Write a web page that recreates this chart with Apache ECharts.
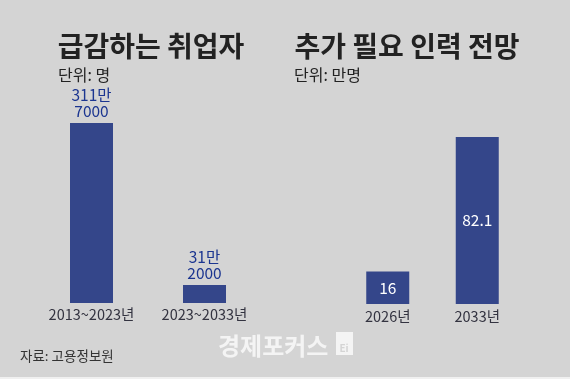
<!DOCTYPE html>
<html><head><meta charset="utf-8">
<script src="https://cdn.jsdelivr.net/npm/echarts@6/dist/echarts.min.js"></script>
<style>html,body{margin:0;padding:0;background:#d4d4d4;}#c{width:570px;height:379px;}</style>
</head><body><div id="c"></div>
<script>
const leftCategories = ['2013~2023년', '2023~2033년'];
const leftValues = [3117000, 312000];
const rightCategories = ['2026년', '2033년'];
const rightValues = [16, 82.1];
const leftTitle = '급감하는 취업자';
const rightTitle = '추가 필요 인력 전망';
const leftUnit = '단위: 명';
const rightUnit = '단위: 만명';
const sourceText = '자료: 고용정보원';

const F = '"Noto Sans CJK KR", "Noto Sans", sans-serif';
const BAR = '#34468a';
const chart = echarts.init(document.getElementById('c'));
function manLabel(v){ return Math.floor(v/10000) + '만\n' + (v % 10000); }
chart.setOption({
  backgroundColor: '#d4d4d4',
  animation: false,
  grid: [
    {left: 35, width: 226, bottom: 76, height: 200},
    {left: 343, width: 179, bottom: 75, height: 200}
  ],
  xAxis: [
    {gridIndex: 0, type: 'category', data: leftCategories, axisLine: {show: false}, axisTick: {show: false},
     axisLabel: {fontFamily: F, fontSize: 14.5, color: '#333340', margin: 4}},
    {gridIndex: 1, type: 'category', data: rightCategories, axisLine: {show: false}, axisTick: {show: false},
     axisLabel: {fontFamily: F, fontSize: 14.5, color: '#333340', margin: 5}}
  ],
  yAxis: [
    {gridIndex: 0, type: 'value', min: 0, max: 3463000, show: false, splitLine: {show: false}},
    {gridIndex: 1, type: 'value', min: 0, max: 98.3, show: false, splitLine: {show: false}}
  ],
  series: [
    {type: 'bar', xAxisIndex: 0, yAxisIndex: 0, data: leftValues, barWidth: 43,
     itemStyle: {color: BAR},
     label: {show: true, position: 'top', distance: 4, fontFamily: F, fontSize: 15.5, lineHeight: 16, color: '#1b3590',
       formatter: p => manLabel(p.value)}},
    {type: 'bar', xAxisIndex: 1, yAxisIndex: 1, data: rightValues, barWidth: 43,
     itemStyle: {color: BAR},
     label: {show: true, position: 'inside', fontFamily: F, fontSize: 15.5, color: '#ffffff'}}
  ],
  graphic: [
    {type: 'text', x: 151, y: 46, style: {text: leftTitle, font: 'bold 28px ' + F, fill: '#222222', textAlign: 'center', textVerticalAlign: 'middle'}},
    {type: 'text', x: 407, y: 46, style: {text: rightTitle, font: 'bold 28px ' + F, fill: '#222222', textAlign: 'center', textVerticalAlign: 'middle'}},
    {type: 'text', x: 58, y: 75, style: {text: leftUnit, font: '16px ' + F, fill: '#222222', textVerticalAlign: 'middle'}},
    {type: 'text', x: 294, y: 75, style: {text: rightUnit, font: '16px ' + F, fill: '#222222', textVerticalAlign: 'middle'}},
    {type: 'text', x: 20, y: 356, style: {text: sourceText, font: '13.5px ' + F, fill: '#333333', textVerticalAlign: 'middle'}},
    {type: 'text', x: 218, y: 346, style: {text: '경제포커스', font: 'bold 24px ' + F, fill: '#f4f4f4', textVerticalAlign: 'middle'}},
    {type: 'rect', shape: {x: 336, y: 332, width: 17, height: 23}, style: {fill: '#f4f4f4'}},
    {type: 'text', x: 344, y: 348, style: {text: 'Ei', font: 'bold 10px ' + F, fill: '#d4d4d4', textAlign: 'center', textVerticalAlign: 'middle'}},
    {type: 'rect', shape: {x: 0, y: 377, width: 570, height: 2}, style: {fill: '#f0f0f0'}}
  ]
});
</script></body></html>
